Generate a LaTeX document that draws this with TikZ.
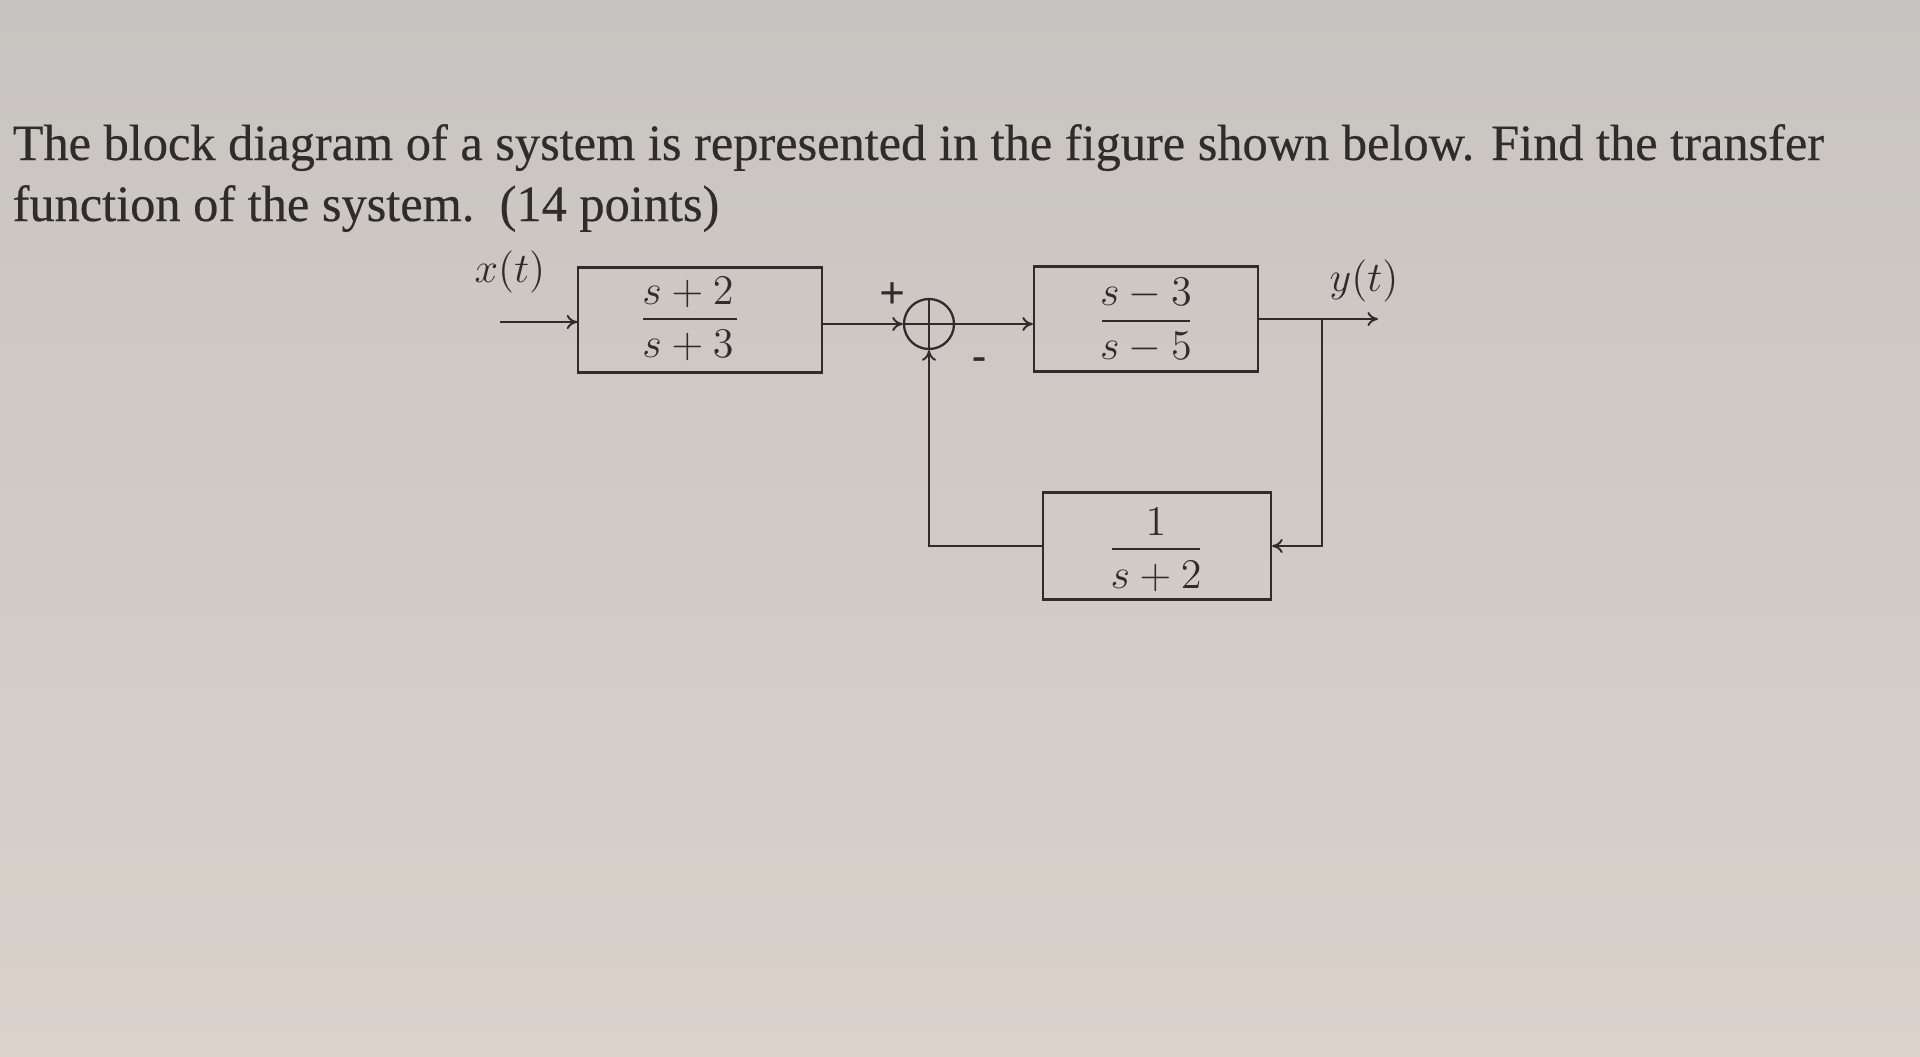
\documentclass[tikz,border=0pt]{standalone}
\usepackage{amsmath}
\usepackage{fontspec}
\setmainfont{Liberation Serif}
\newfontfamily\ttlfont[FakeBold=0.4]{Liberation Serif}
\usetikzlibrary{arrows.meta}
\definecolor{papertop}{RGB}{200,196,193}
\definecolor{paperbot}{RGB}{218,210,203}
\definecolor{ink}{RGB}{48,44,44}
\tikzset{
  blk/.style={draw=ink, line width=0.6pt, minimum width=#1, inner sep=0pt},
  blk/.default=2.4cm,
  sumc/.style={draw=ink, line width=0.65pt, circle, minimum size=0.5cm, inner sep=0pt},
  wire/.style={draw=ink, line width=0.55pt},
  bar/.style={draw=ink, line width=0.6pt},
  arr/.style={wire, -{To[length=3pt,width=4pt]}},
  ttl/.style={text=ink, anchor=base west, inner sep=0pt, xscale=0.988, font=\ttlfont\fontsize{14.5}{17}\selectfont},
  lbl/.style={text=ink, inner sep=0pt, font=\fontsize{13}{15}\selectfont},
  frc/.style={text=ink, inner sep=0pt, anchor=base, font=\fontsize{11.5}{14}\selectfont},
}
\begin{document}
\begin{tikzpicture}[x=0.01cm, y=-0.01cm]
\useasboundingbox (0,0) rectangle (1920,1057);
\shade[top color=papertop, bottom color=paperbot] (0,0) rectangle (1920,1057);
% title
\node[ttl] (t1) at (12,160) {The block diagram of a system is represented in the figure shown below. Find the transfer};
\node[ttl] (t2) at (12,221) {function of the system.\ \ (14 points)};
% block 1
\node[blk=2.43cm, minimum height=1.05cm] (b1) at (700,320) {};
\node[frc] (n1) at (688,304) {$s+2$};
\node[frc] (d1) at (688,357) {$s+3$};
\coordinate (l1a) at (643,319); \coordinate (l1b) at (737,319);
\draw[bar] (l1a) -- (l1b);
% block 2
\node[blk=2.24cm, minimum height=1.05cm] (b2) at (1146,319) {};
\node[frc] (n2) at (1146,305) {$s-3$};
\node[frc] (d2) at (1146,359) {$s-5$};
\coordinate (l2a) at (1102,321); \coordinate (l2b) at (1190,321);
\draw[bar] (l2a) -- (l2b);
% block 3
\node[blk=2.28cm, minimum height=1.07cm] (b3) at (1157,546) {};
\node[frc] (n3) at (1156,535) {$1$};
\node[frc] (d3) at (1156,588) {$s+2$};
\coordinate (l3a) at (1112,549); \coordinate (l3b) at (1200,549);
\draw[bar] (l3a) -- (l3b);
% summing junction
\node[sumc] (sum) at (929,324) {};
\draw[wire] (sum.north) -- (sum.south) (sum.west) -- (sum.east);
\node[text=ink, inner sep=0pt, font=\bfseries\fontsize{13}{15}\selectfont] (plus) at (893,296) {+};
\node[text=ink, inner sep=0pt, font=\bfseries\fontsize{12}{14}\selectfont] (minus) at (980,364) {-};
% labels
\node[lbl] (xt) at (510,272) {$x(t)$};
\node[lbl] (yt) at (1364,281) {$y(t)$};
% connectors
\coordinate (in) at (500,322);
\coordinate (br) at (1322,319);
\coordinate (out) at (1378,319);
\draw[arr] (in) -- (b1.west |- in);
\draw[arr] (b1.east |- sum) -- (sum.west);
\draw[arr] (sum.east) -- (b2.west |- sum);
\draw[wire] (b2.east |- br) -- (br);
\draw[arr] (br) -- (out);
\draw[arr] (br) |- (b3.east);
\draw[arr] (b3.west) -| (sum.south);
\end{tikzpicture}
\end{document}
